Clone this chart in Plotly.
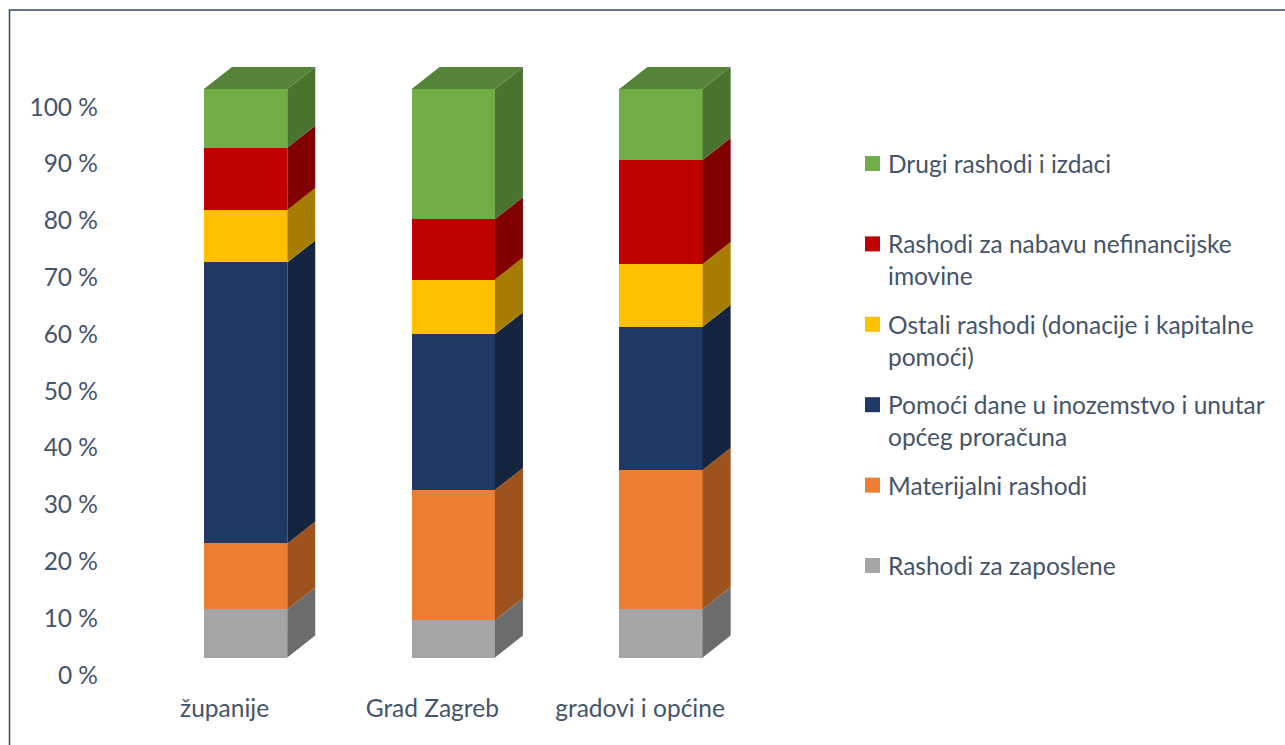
import plotly.graph_objects as go

# ---------------- data ----------------
categories = ["županije", "Grad Zagreb", "gradovi i općine"]
series_names = [
    "Rashodi za zaposlene",
    "Materijalni rashodi",
    "Pomoći dane u inozemstvo i unutar općeg proračuna",
    "Ostali rashodi (donacije i kapitalne pomoći)",
    "Rashodi za nabavu nefinancijske imovine",
    "Drugi rashodi i izdaci",
]
legend_lines = [
    ["Rashodi za zaposlene"],
    ["Materijalni rashodi"],
    ["Pomoći dane u inozemstvo i unutar", "općeg proračuna"],
    ["Ostali rashodi (donacije i kapitalne", "pomoći)"],
    ["Rashodi za nabavu nefinancijske", "imovine"],
    ["Drugi rashodi i izdaci"],
]
zaposlene = [8.45, 6.55, 8.53]
materijalni = [11.61, 22.93, 24.46]
pomoci = [49.45, 27.40, 25.22]
ostali = [9.20, 9.61, 11.03]
nefinancijska = [10.96, 10.63, 18.30]
drugi = [10.33, 22.88, 12.46]
series_values = [zaposlene, materijalni, pomoci, ostali, nefinancijska, drugi]
y_ticks = [0, 10, 20, 30, 40, 50, 60, 70, 80, 90, 100]
y_ticktext = [f"{v} %" for v in y_ticks]

# ---------------- style ----------------
front_colors = ["#A5A5A5", "#ED7D31", "#203864", "#FFC000", "#C00000", "#70AD47"]
side_colors = ["#6C6C6C", "#9E531F", "#15243F", "#A67D00", "#800000", "#4B7330"]
top_color = "#558337"
text_color = "#44546A"
FONT = "Lato"
FS = 24.5

W_FIG, H_FIG = 1285, 745
L, R, T, B = 99, 0, 0, 54
PW, PH = W_FIG - L - R, H_FIG - T - B

# pixel geometry of the 3D bars
bar_px0 = 245.6      # front-face centre of first bar (px)
bar_step = 207.7     # px between bars
bar_w_px = 83.3
depth_dx_px = 28.0
depth_dy_px = 22.0
y_scale = 5.68       # px per % (axis labels, back wall)
bar_scale = 5.684    # px per % (front of bars)
y0_px = 675.0        # 0 % label
bar0_px = 657.5      # bar bottom (front face)

xr = [(L - bar_px0) / bar_step, (L + PW - bar_px0) / bar_step]
yr = [(bar0_px - (T + PH)) / bar_scale, (bar0_px - T) / bar_scale]

bw = bar_w_px / bar_step
ddx = depth_dx_px / bar_step
ddy = depth_dy_px / bar_scale


def label_pos(v):
    # position of the (back-wall) axis label expressed in the bar axis units
    py = y0_px - y_scale * v
    return (bar0_px - py) / bar_scale


def xp(px):
    return (px - L) / PW


def yp(py):
    return (T + PH - py) / PH


fig = go.Figure()

xs = list(range(len(categories)))
# front faces
for name, vals, col in zip(series_names, series_values, front_colors):
    fig.add_trace(go.Bar(x=xs, y=vals, width=bw, name=name, marker=dict(color=col, line=dict(width=0)),
                         showlegend=False))

# side and top faces
cum = [0.0] * len(categories)
for vals, scol in zip(series_values, side_colors):
    for i, v in enumerate(vals):
        b = cum[i]
        t = b + v
        xrt = i + bw / 2
        fig.add_trace(go.Scatter(
            x=[xrt, xrt, xrt + ddx, xrt + ddx, xrt],
            y=[b, t, t + ddy, b + ddy, b],
            fill="toself", fillcolor=scol, mode="lines", line=dict(width=0, color=scol),
            showlegend=False, hoverinfo="skip"))
        cum[i] = t
for i in xs:
    xl = i - bw / 2
    xrt = i + bw / 2
    top = cum[i]
    fig.add_trace(go.Scatter(
        x=[xl, xl + ddx, xrt + ddx, xrt, xl],
        y=[top, top + ddy, top + ddy, top, top],
        fill="toself", fillcolor=top_color, mode="lines", line=dict(width=0, color=top_color),
        showlegend=False, hoverinfo="skip"))

# manual legend
leg_sq_x = 872.5
leg_txt_x = 885.5
leg_top = 163.5
leg_step = 80.4
line_h = 32
shapes = []
annotations = []
for k, (lines, col) in enumerate(zip(reversed(legend_lines), reversed(front_colors))):
    cy = leg_top + k * leg_step
    shapes.append(dict(type="rect", xref="paper", yref="paper",
                       x0=xp(leg_sq_x - 7.5), x1=xp(leg_sq_x + 7.5),
                       y0=yp(cy + 7.5), y1=yp(cy - 7.5),
                       fillcolor=col, line=dict(width=0)))
    for j, ln in enumerate(lines):
        annotations.append(dict(text=ln, xref="paper", yref="paper", x=xp(leg_txt_x), y=yp(cy + j * line_h),
                                xanchor="left", yanchor="middle", showarrow=False,
                                font=dict(family=FONT, size=FS, color=text_color)))

# chart border
shapes.append(dict(type="rect", xref="paper", yref="paper",
                   x0=xp(9.5), x1=xp(1295), y0=yp(760), y1=yp(10),
                   line=dict(color="#2F4A68", width=1.5), fillcolor="rgba(0,0,0,0)", layer="above"))

label_shift = 21 / bar_step
fig.update_layout(
    width=W_FIG, height=H_FIG,
    margin=dict(l=L, r=R, t=T, b=B),
    paper_bgcolor="white", plot_bgcolor="white",
    barmode="stack", bargap=0,
    font=dict(family=FONT, size=FS, color=text_color),
    xaxis=dict(range=xr, tickvals=[i - label_shift for i in xs], ticktext=categories,
               showgrid=False, zeroline=False, showline=False, ticks="",
               tickfont=dict(family=FONT, size=FS, color=text_color)),
    yaxis=dict(range=yr, tickvals=[label_pos(v) for v in y_ticks], ticktext=y_ticktext,
               showgrid=False, zeroline=False, showline=False, ticks="",
               tickfont=dict(family=FONT, size=FS, color=text_color)),
    shapes=shapes, annotations=annotations,
)

fig.write_html("out.html", config={"displayModeBar": False},
               post_script="document.body.style.margin='0';")
